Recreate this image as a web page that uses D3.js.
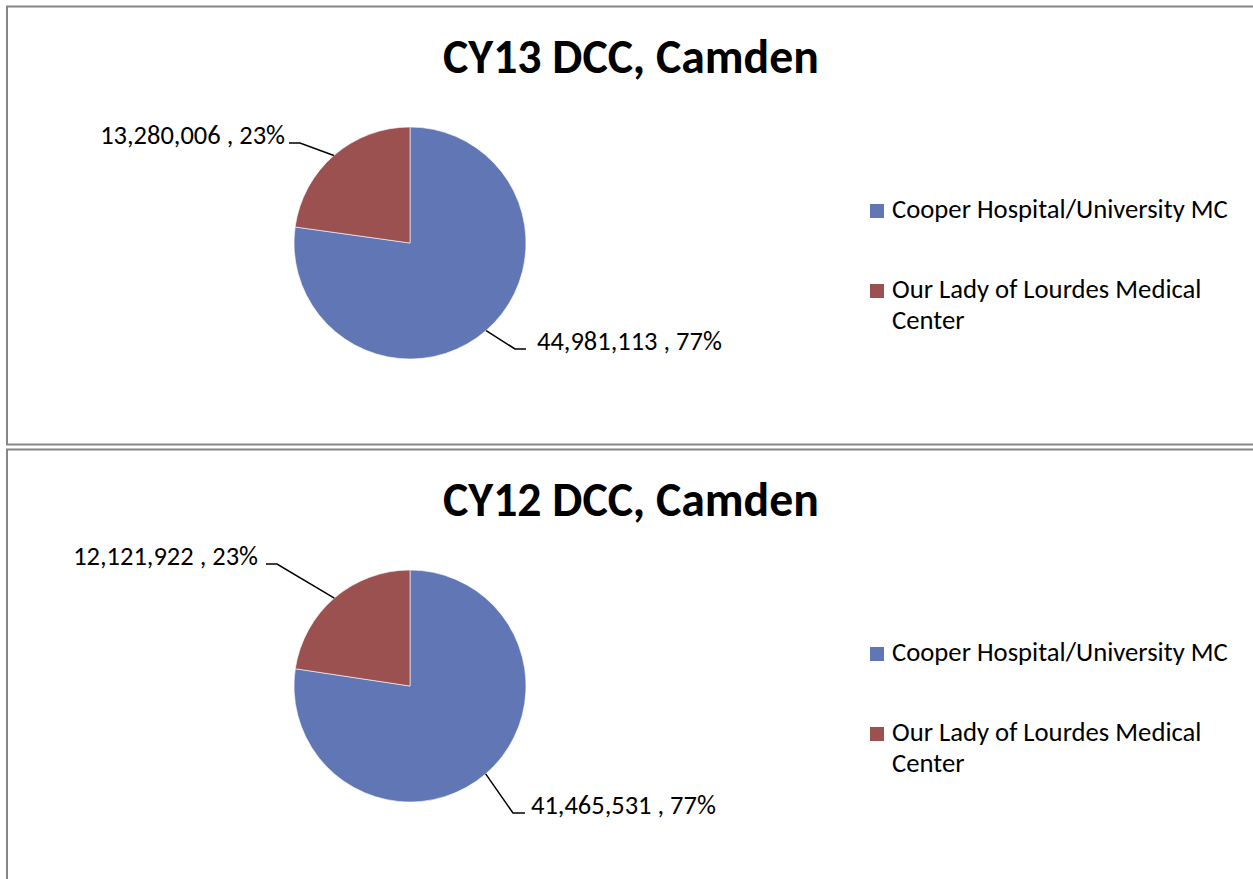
<!DOCTYPE html>
<html>
<head>
<meta charset="utf-8">
<script src="https://cdn.jsdelivr.net/npm/d3@7/dist/d3.min.js"></script>
<style>
  html, body { margin: 0; padding: 0; background: #fff; }
  svg { display: block; }
  text { font-family: Carlito, Calibri, Lato, "Open Sans", sans-serif; fill: #000; }
</style>
</head>
<body>
<svg id="chart" width="1253" height="879"></svg>
<script>
// ---- data ----
const categories = ["Cooper Hospital/University MC", "Our Lady of Lourdes Medical Center"];
const titles = ["CY13 DCC, Camden", "CY12 DCC, Camden"];
const cy13Values = [44981113, 13280006];
const cy12Values = [41465531, 12121922];
const seriesList = [cy13Values, cy12Values];
const colors = ["#6076B5", "#9C5151"];

// ---- layout ----
const W = 1253, H = 879;
const panelTops = [6, 449];
const panelHeight = 438;
const pieCx = 410, pieCyOff = 237, radius = 116;
// leader elbows relative to pie centre, per panel, per slice
const elbows = [
  [{x: 105, y: 106, hx: 116, tx: 127}, {x: -110, y: -100, hx: -121, tx: -125}],
  [{x: 103, y: 127, hx: 115, tx: 121}, {x: -133, y: -122, hx: -144, tx: -152}]
];

const svg = d3.select("#chart");
const color = d3.scaleOrdinal().domain(categories).range(colors);
const pie = d3.pie().sort(null).value(d => d.value);
const arc = d3.arc().innerRadius(0).outerRadius(radius);
const fmtNum = d3.format(",");
const fmtPct = d3.format(".0%");

function fit(sel, target, base) {
  sel.style("font-size", base + "px");
  const w = sel.node().getComputedTextLength();
  const s = base * target / w;
  sel.style("font-size", s + "px");
  return s;
}

let titleSize = null, labelSize = null, legendSize = null;

seriesList.forEach((vals, pi) => {
  const top = panelTops[pi];
  const g = svg.append("g").attr("transform", `translate(0,${top})`);
  g.append("rect")
    .attr("x", 7).attr("y", 0.5)
    .attr("width", W + 20).attr("height", panelHeight)
    .attr("fill", "#fff").attr("stroke", "#868686").attr("stroke-width", 2);

  const t = g.append("text")
    .attr("x", 631).attr("y", 67)
    .attr("text-anchor", "middle")
    .style("font-weight", "bold")
    .text(titles[pi]);
  if (titleSize === null) titleSize = fit(t, 376, 40); else t.style("font-size", titleSize + "px");

  const data = categories.map((c, i) => ({cat: c, value: vals[i]}));
  const total = d3.sum(vals);
  const arcs = pie(data);
  const pg = g.append("g").attr("transform", `translate(${pieCx},${pieCyOff})`);
  pg.selectAll("path").data(arcs).join("path")
    .attr("d", arc)
    .attr("fill", d => color(d.data.cat))
    .attr("stroke", "#fff").attr("stroke-width", 0.6);

  arcs.forEach((a, i) => {
    const mid = (a.startAngle + a.endAngle) / 2;
    const sx = Math.sin(mid) * radius, sy = -Math.cos(mid) * radius;
    const e = elbows[pi][i];
    pg.append("polyline")
      .attr("points", `${sx},${sy} ${e.x},${e.y} ${e.hx},${e.y}`)
      .attr("fill", "none").attr("stroke", "#000").attr("stroke-width", 1.5);
    const lt = pg.append("text")
      .attr("x", e.tx).attr("y", e.y + 1)
      .attr("text-anchor", e.tx > 0 ? "start" : "end")
      .text(`${fmtNum(a.data.value)} , ${fmtPct(a.data.value / total)}`);
    if (labelSize === null) labelSize = fit(lt, 185, 22); else lt.style("font-size", labelSize + "px");
  });

  // legend
  const lg = g.append("g");
  const legendRows = [
    {cat: categories[0], lines: ["Cooper Hospital/University MC"], y: 198},
    {cat: categories[1], lines: ["Our Lady of Lourdes Medical", "Center"], y: 278}
  ];
  legendRows.forEach((r, i) => {
    lg.append("rect").attr("x", 870).attr("y", r.y).attr("width", 14).attr("height", 14)
      .attr("fill", color(r.cat));
    r.lines.forEach((ln, j) => {
      const tt = lg.append("text").attr("x", 892).attr("y", r.y + 14 + j * 31).text(ln);
      if (legendSize === null) legendSize = fit(tt, 336, 22); else tt.style("font-size", legendSize + "px");
    });
  });
});
</script>
</body>
</html>
